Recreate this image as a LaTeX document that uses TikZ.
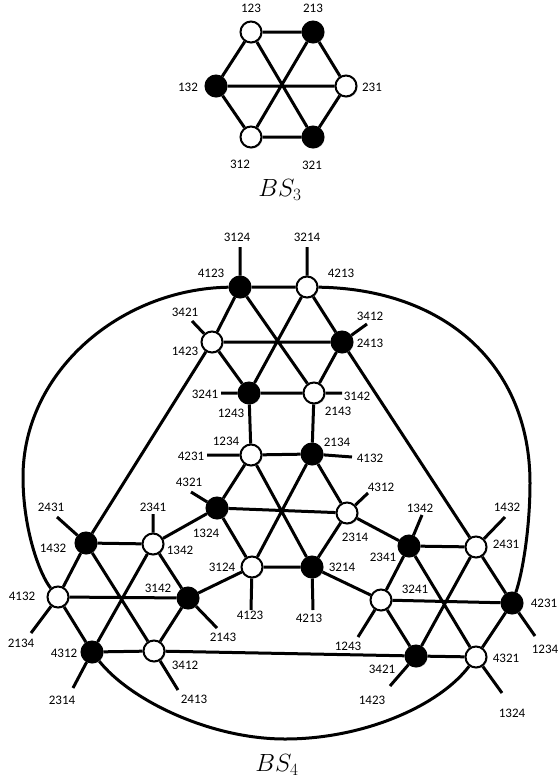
\documentclass[tikz,border=0pt]{standalone}
\usepackage{fontspec}
\setmainfont{Carlito}
\usetikzlibrary{shadows}
\pgfdeclarelayer{bg}
\pgfsetlayers{bg,main}
\begin{document}
\begin{tikzpicture}[x=1pt,y=-1pt,
  wn/.style={circle,draw,line width=2pt,fill=white,minimum size=21pt,inner sep=0pt,
    drop shadow={shadow xshift=1.2pt,shadow yshift=-1.2pt,opacity=0.35}},
  bn/.style={circle,draw,line width=2pt,fill=black,minimum size=21pt,inner sep=0pt,
    drop shadow={shadow xshift=1.2pt,shadow yshift=-1.2pt,opacity=0.35}},
  edge/.style={line width=3pt},
  lab/.style={font=\fontsize{13}{15}\selectfont,inner sep=0pt},
  title/.style={font=\fontsize{25}{30}\selectfont,inner sep=0pt}]
\useasboundingbox (0,0) rectangle (559,782);

% ---------------- BS3 ----------------
\node[wn] (a123) at (251,32) {};
\node[bn] (a213) at (313,32) {};
\node[bn] (a132) at (216,86) {};
\node[wn] (a231) at (346,86) {};
\node[wn] (a312) at (251,137) {};
\node[bn] (a321) at (313,137) {};
\node[lab] (la123) at (251,8) {123};
\node[lab] (la213) at (313,8) {213};
\node[lab] (la132) at (188,87) {132};
\node[lab] (la231) at (372,87) {231};
\node[lab] (la312) at (240,164) {312};
\node[lab] (la321) at (312,165) {321};
\node[title] (bs3) at (280,190) {$BS_3$};
\begin{pgfonlayer}{bg}
\draw[edge] (a123) -- (a213) -- (a231) -- (a321) -- (a312) -- (a132) -- (a123);
\draw[edge] (a123) -- (a321) (a213) -- (a312) (a132) -- (a231);
\end{pgfonlayer}

% ---------------- BS4 nodes ----------------
\node[bn] (T1) at (240,287) {};
\node[wn] (T2) at (307,287) {};
\node[wn] (T3) at (212,342) {};
\node[bn] (T4) at (342,342) {};
\node[bn] (T5) at (249,393) {};
\node[wn] (T6) at (314,393) {};
\node[wn] (C1) at (251,455) {};
\node[bn] (C2) at (312,454) {};
\node[bn] (C3) at (217,508) {};
\node[wn] (C4) at (347,513) {};
\node[wn] (C5) at (252,567) {};
\node[bn] (C6) at (312,567) {};
\node[bn] (L1) at (86,543) {};
\node[wn] (L2) at (153,544) {};
\node[wn] (L3) at (58,597) {};
\node[bn] (L4) at (188,598) {};
\node[bn] (L5) at (92,652) {};
\node[wn] (L6) at (154,651) {};
\node[bn] (R1) at (409,546) {};
\node[wn] (R2) at (476,547) {};
\node[wn] (R3) at (381,600) {};
\node[bn] (R4) at (512,603) {};
\node[bn] (R5) at (416,656) {};
\node[wn] (R6) at (476,657) {};

% node labels
\node[lab] (nT1) at (211,273) {4123};
\node[lab] (nT2) at (341,273) {4213};
\node[lab] (nT3) at (185,351) {1423};
\node[lab] (nT4) at (370,343) {2413};
\node[lab] (nT5) at (231,413) {1243};
\node[lab] (nT6) at (338,411) {2143};
\node[lab] (nC1) at (226,441) {1234};
\node[lab] (nC2) at (337,442) {2134};
\node[lab] (nC3) at (206,533) {1324};
\node[lab] (nC4) at (355,537) {2314};
\node[lab] (nC5) at (222,567) {3124};
\node[lab] (nC6) at (342,567) {3214};
\node[lab] (nL1) at (53,548) {1432};
\node[lab] (nL2) at (180,550) {1342};
\node[lab] (nL3) at (22,596) {4132};
\node[lab] (nL4) at (158,588) {3142};
\node[lab] (nL5) at (64,653) {4312};
\node[lab] (nL6) at (185,665) {3412};
\node[lab] (nR1) at (383,557) {2341};
\node[lab] (nR2) at (506,544) {2431};
\node[lab] (nR3) at (415,589) {3241};
\node[lab] (nR4) at (544,603) {4231};
\node[lab] (nR5) at (382,669) {3421};
\node[lab] (nR6) at (506,658) {4321};

% tick ends and their labels
\coordinate (eT1) at (240,247); \node[lab] (tT1) at (237,237) {3124};
\coordinate (eT2) at (307,247); \node[lab] (tT2) at (307,237) {3214};
\coordinate (eT3) at (192,321); \node[lab] (tT3) at (185,312) {3421};
\coordinate (eT4) at (367,324); \node[lab] (tT4) at (370,316) {3412};
\coordinate (eT5) at (221,393); \node[lab] (tT5) at (205,394) {3241};
\coordinate (eT6) at (342,393); \node[lab] (tT6) at (357,396) {3142};
\coordinate (eC1) at (207,455); \node[lab] (tC1) at (191,456) {4231};
\coordinate (eC2) at (352,457); \node[lab] (tC2) at (370,458) {4132};
\coordinate (eC3) at (191,492); \node[lab] (tC3) at (189,482) {4321};
\coordinate (eC4) at (368,493); \node[lab] (tC4) at (381,487) {4312};
\coordinate (eC5) at (251,610); \node[lab] (tC5) at (250,615) {4123};
\coordinate (eC6) at (313,610); \node[lab] (tC6) at (309,618) {4213};
\coordinate (eL1) at (57,517);  \node[lab] (tL1) at (51,507) {2431};
\coordinate (eL2) at (153,514); \node[lab] (tL2) at (153,507) {2341};
\coordinate (eL3) at (31,633);  \node[lab] (tL3) at (21,643) {2134};
\coordinate (eL4) at (217,628); \node[lab] (tL4) at (223,637) {2143};
\coordinate (eL5) at (73,688);  \node[lab] (tL5) at (62,700) {2314};
\coordinate (eL6) at (178,690); \node[lab] (tL6) at (194,699) {2413};
\coordinate (eR1) at (422,515); \node[lab] (tR1) at (420,508) {1342};
\coordinate (eR2) at (505,517); \node[lab] (tR2) at (507,507) {1432};
\coordinate (eR3) at (358,637); \node[lab] (tR3) at (348,646) {1243};
\coordinate (eR4) at (535,636); \node[lab] (tR4) at (545,649) {1234};
\coordinate (eR5) at (390,686); \node[lab] (tR5) at (372,700) {1423};
\coordinate (eR6) at (502,693); \node[lab] (tR6) at (512,713) {1324};

\coordinate (rm) at (530,483);
\coordinate (lm) at (23,477);
\coordinate (bm) at (285,739);

\node[title] (bs4) at (277,765) {$BS_4$};

\begin{pgfonlayer}{bg}
% top hexagon
\draw[edge] (T1) -- (T2) -- (T4) -- (T6) -- (T5) -- (T3) -- (T1);
\draw[edge] (T1) -- (T6) (T2) -- (T5) (T3) -- (T4);
\draw[edge] (T5) -- (C1) (T6) -- (C2);
% centre hexagon
\draw[edge] (C1) -- (C2) -- (C4) -- (C6) -- (C5) -- (C3) -- (C1);
\draw[edge] (C1) -- (C6) (C2) -- (C5) (C3) -- (C4);
% left hexagon
\draw[edge] (L1) -- (L2) -- (L4) -- (L6) -- (L5) -- (L3) -- (L1);
\draw[edge] (L1) -- (L6) (L2) -- (L5) (L3) -- (L4);
% right hexagon
\draw[edge] (R1) -- (R2) -- (R4) -- (R6) -- (R5) -- (R3) -- (R1);
\draw[edge] (R1) -- (R6) (R2) -- (R5) (R3) -- (R4);
% connections between hexagons
\draw[edge] (C3) -- (L2) (C5) -- (L4) (C4) -- (R1) (C6) -- (R3);
\draw[edge] (T3) -- (L1) (T4) -- (R2) (L6) -- (R5);
% outer curves
\draw[edge] (T2) .. controls (445,289) and (530,365) .. (rm)
                 .. controls (530,530) and (522,575) .. (R4);
\draw[edge] (T1) .. controls (120,289) and (23,372) .. (lm)
                 .. controls (23,530) and (40,575) .. (L3);
\draw[edge] (L5) .. controls (130,700) and (210,739) .. (bm)
                 .. controls (365,739) and (440,705) .. (R6);
% pendant ticks
\draw[edge] (T1) -- (eT1) (T2) -- (eT2) (T3) -- (eT3) (T4) -- (eT4)
            (T5) -- (eT5) (T6) -- (eT6);
\draw[edge] (C1) -- (eC1) (C2) -- (eC2) (C3) -- (eC3) (C4) -- (eC4)
            (C5) -- (eC5) (C6) -- (eC6);
\draw[edge] (L1) -- (eL1) (L2) -- (eL2) (L3) -- (eL3) (L4) -- (eL4)
            (L5) -- (eL5) (L6) -- (eL6);
\draw[edge] (R1) -- (eR1) (R2) -- (eR2) (R3) -- (eR3) (R4) -- (eR4)
            (R5) -- (eR5) (R6) -- (eR6);
\end{pgfonlayer}
\end{tikzpicture}
\end{document}
